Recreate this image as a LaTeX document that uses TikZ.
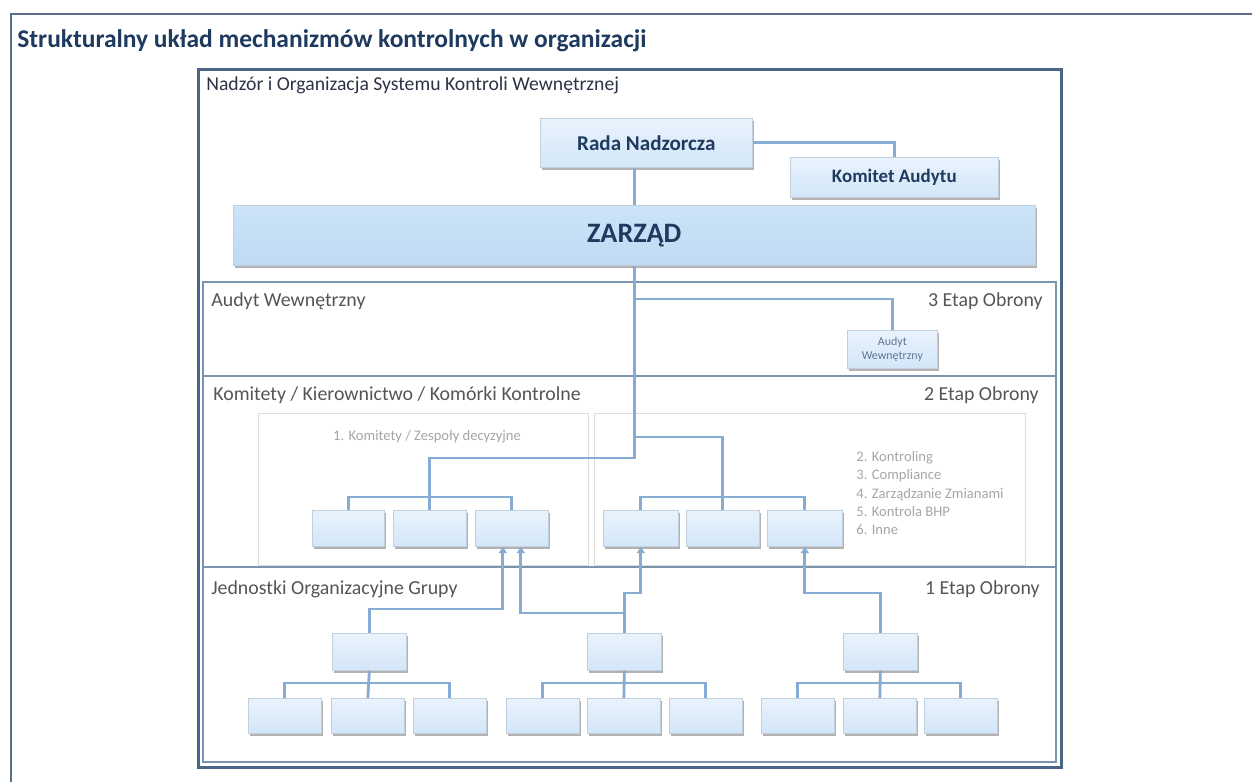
\documentclass[tikz,border=0pt]{standalone}
\usepackage{fontspec}
\setmainfont{Carlito}
\usetikzlibrary{shadows,arrows.meta}
\definecolor{outerline}{HTML}{5A6E85}
\definecolor{frameblue}{HTML}{4B6584}
\definecolor{conn}{HTML}{86ACD3}
\definecolor{boxtop}{HTML}{E9F3FD}
\definecolor{boxbot}{HTML}{D3E6F8}
\definecolor{boxline}{HTML}{C2D0DE}
\definecolor{zartop}{HTML}{CCE3F7}
\definecolor{zarbot}{HTML}{BFDAF3}
\definecolor{titlecol}{HTML}{1F3A5F}
\definecolor{darktext}{HTML}{2B3445}
\definecolor{labelcol}{HTML}{555555}
\definecolor{lightcol}{HTML}{A6A6A6}
\definecolor{sectline}{HTML}{7A93B0}
\definecolor{grpline}{HTML}{DCDCDC}
\definecolor{smallblue}{HTML}{5F7791}
\tikzset{
  ubox/.style={draw=boxline, line width=0.4pt, top color=boxtop, bottom color=boxbot,
    drop shadow={shadow xshift=0.03cm, shadow yshift=-0.045cm, fill=black!55, opacity=0.55},
    inner sep=0pt, anchor=north west},
  zbox/.style={ubox, top color=zartop, bottom color=zarbot},
  conn/.style={draw=conn, line width=1.6pt, line join=miter},
  arr/.style={conn, -{Triangle[length=0.13cm,width=0.16cm]}},
  sect/.style={draw=sectline, line width=0.7pt},
  grp/.style={draw=grpline, line width=0.5pt},
  lab/.style={text=labelcol, font=\fontsize{11.3}{13}\selectfont, inner sep=0pt},
  small/.style={text=lightcol, font=\fontsize{8.3}{10.4}\selectfont, inner sep=0pt}
}
\begin{document}
\begin{tikzpicture}[x=0.02cm,y=-0.02cm]
\useasboundingbox (0,0) rectangle (1252,782);
\fill[white] (0,0) rectangle (1252,782);
% outer frame
\draw[draw=outerline, line width=0.04cm] (11,782) -- (11,14) -- (1252,14);
\node[anchor=west, inner sep=0pt, text=titlecol, font=\bfseries\fontsize{14.5}{17}\selectfont] (title) at (17,41) {Strukturalny układ mechanizmów kontrolnych w organizacji};
% main frame
\draw[draw=frameblue, line width=0.06cm] (198,69) rectangle (1061,767);
\node[anchor=west, inner sep=0pt, text=darktext, font=\fontsize{11.2}{13}\selectfont] (nadzor) at (206,85) {Nadzór i Organizacja Systemu Kontroli Wewnętrznej};
% section band
\draw[sect] (203,282) rectangle (1056,762);
\draw[sect] (203,376) -- (1056,376);
\draw[sect] (203,567) -- (1056,567);
\draw[grp] (258,413) rectangle (588,565);
\draw[grp] (594,413) rectangle (1025,565);
% section labels
\node[lab, anchor=west] (lA) at (211,301) {Audyt Wewnętrzny};
\node[lab, anchor=east] (eA) at (1043,301) {3 Etap Obrony};
\node[lab, anchor=west] (lK) at (213,395) {Komitety / Kierownictwo / Komórki Kontrolne};
\node[lab, anchor=east] (eK) at (1039,395) {2 Etap Obrony};
\node[lab, anchor=west] (lJ) at (211,589) {Jednostki Organizacyjne Grupy};
\node[lab, anchor=east] (eJ) at (1040,589) {1 Etap Obrony};
\node[small] (kz) at (427,437) {1. Komitety / Zespoły decyzyjne};
\node[small, anchor=north west, align=left] (list) at (856,451) {2. Kontroling\\3. Compliance\\4. Zarządzanie Zmianami\\5. Kontrola BHP\\6. Inne};
% top boxes
\node[ubox, minimum width=4.24cm, minimum height=0.98cm, text=titlecol, font=\bfseries\fontsize{12}{14}\selectfont] (rada) at (540,118) {Rada Nadzorcza};
\node[ubox, minimum width=4.16cm, minimum height=0.8cm, text=titlecol, font=\bfseries\fontsize{10.8}{12}\selectfont] (komitet) at (790,157) {Komitet Audytu};
\node[zbox, minimum width=16.04cm, minimum height=1.2cm, text=titlecol, font=\bfseries\fontsize{16}{18}\selectfont] (zarzad) at (233,205) {ZARZĄD};
\node[ubox, minimum width=1.8cm, minimum height=0.76cm, align=center, text=smallblue, font=\fontsize{6.8}{7.8}\selectfont] (audyt) at (847,330) {Audyt\\Wewnętrzny};
% committee boxes
\node[ubox, minimum width=1.44cm, minimum height=0.72cm] (k1) at (312,510) {};
\node[ubox, minimum width=1.46cm, minimum height=0.72cm] (k2) at (393,510) {};
\node[ubox, minimum width=1.46cm, minimum height=0.72cm] (k3) at (475,510) {};
\node[ubox, minimum width=1.50cm, minimum height=0.72cm] (r1) at (603,510) {};
\node[ubox, minimum width=1.46cm, minimum height=0.72cm] (r2) at (686,510) {};
\node[ubox, minimum width=1.50cm, minimum height=0.72cm] (r3) at (767,510) {};
% group top boxes
\node[ubox, minimum width=1.48cm, minimum height=0.74cm] (g1) at (332,633) {};
\node[ubox, minimum width=1.48cm, minimum height=0.74cm] (g2) at (587,633) {};
\node[ubox, minimum width=1.48cm, minimum height=0.74cm] (g3) at (843,633) {};
% bottom boxes
\node[ubox, minimum width=1.46cm, minimum height=0.7cm] (b11) at (248,698) {};
\node[ubox, minimum width=1.46cm, minimum height=0.7cm] (b12) at (331,698) {};
\node[ubox, minimum width=1.46cm, minimum height=0.7cm] (b13) at (413,698) {};
\node[ubox, minimum width=1.46cm, minimum height=0.7cm] (b21) at (506,698) {};
\node[ubox, minimum width=1.46cm, minimum height=0.7cm] (b22) at (587,698) {};
\node[ubox, minimum width=1.46cm, minimum height=0.7cm] (b23) at (669,698) {};
\node[ubox, minimum width=1.46cm, minimum height=0.7cm] (b31) at (761,698) {};
\node[ubox, minimum width=1.46cm, minimum height=0.7cm] (b32) at (843,698) {};
\node[ubox, minimum width=1.46cm, minimum height=0.7cm] (b33) at (924,698) {};
% levels
\coordinate (hA) at (0,299);
\coordinate (hR) at (0,437);
\coordinate (hL) at (0,458);
\coordinate (hK) at (0,497);
\coordinate (hB) at (0,683);
\coordinate (v1) at (0,609);
\coordinate (v2) at (0,613);
\coordinate (v3) at (0,593);
\coordinate (k3L) at ([xshift=-0.18cm]k3.south);
\coordinate (k3R) at ([xshift=0.18cm]k3.south);
% connectors top
\draw[conn] (rada.south -| zarzad.north) -- (zarzad.north);
\draw[conn] (rada.east) -| (komitet.north);
\draw[conn] (zarzad.south) -- (zarzad.south |- hL) -| (k2.north);
\draw[conn] (zarzad.south |- hA) -| (audyt.north);
\draw[conn] (zarzad.south |- hR) -| (r2.north);
\draw[conn] (k1.north) -- (k1.north |- hK) -- (k3.north |- hK) -- (k3.north);
\draw[conn] (r1.north) -- (r1.north |- hK) -- (r3.north |- hK) -- (r3.north);
% bottom groups
\draw[conn] (g1.south) -- (b12.north);
\draw[conn] (b11.north) -- (b11.north |- hB) -- (b13.north |- hB) -- (b13.north);
\draw[conn] (g2.south) -- (b22.north);
\draw[conn] (b21.north) -- (b21.north |- hB) -- (b23.north |- hB) -- (b23.north);
\draw[conn] (g3.south) -- (b32.north);
\draw[conn] (b31.north) -- (b31.north |- hB) -- (b33.north |- hB) -- (b33.north);
% arrows up
\draw[arr] (g1.north) |- (k3L |- v1) -- (k3L);
\draw[arr] (g2.north) |- (k3R |- v2) -- (k3R);
\draw[arr] (g2.north) |- (r1.south |- v3) -- (r1.south);
\draw[arr] (g3.north) |- (r3.south |- v3) -- (r3.south);
\end{tikzpicture}
\end{document}
